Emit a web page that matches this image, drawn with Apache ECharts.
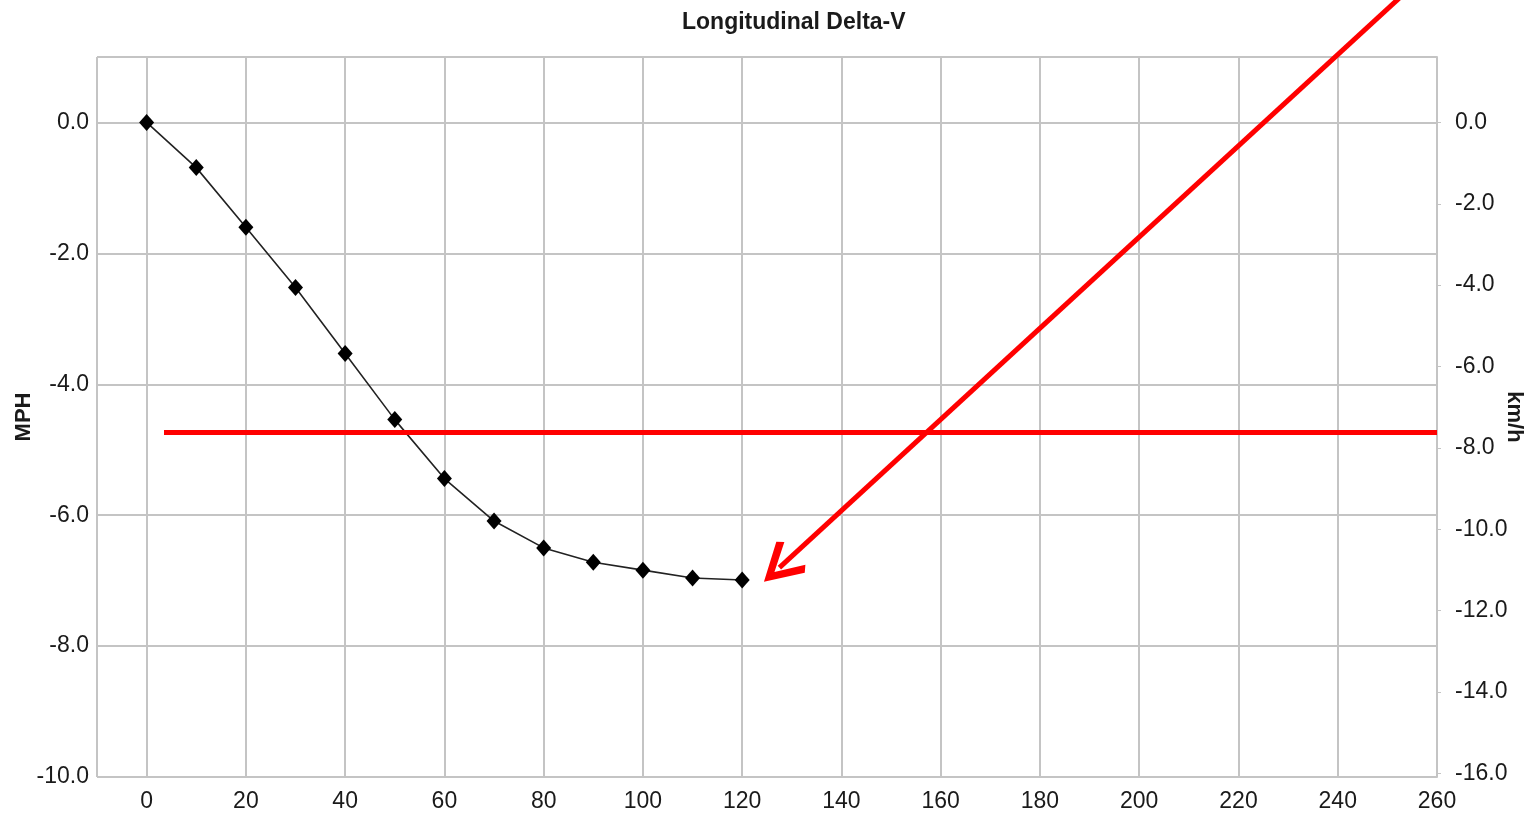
<!DOCTYPE html>
<html>
<head>
<meta charset="utf-8">
<title>Longitudinal Delta-V</title>
<script src="https://cdn.jsdelivr.net/npm/echarts@6/dist/echarts.min.js"></script>
<style>
  html, body { margin: 0; padding: 0; background: #fff; }
  #main { width: 1533px; height: 815px; }
</style>
</head>
<body>
<div id="main"></div>
<script>
// time (ms) and delta-V (mph)
const timeMs = [0, 10, 20, 30, 40, 50, 60, 70, 80, 90, 100, 110, 120];
const deltaVMph = [0, -0.69, -1.6, -2.52, -3.53, -4.54, -5.44, -6.09, -6.5, -6.72, -6.84, -6.96, -6.99];

// axis ranges
const xRange = [-10, 260];
const mphRange = [-10, 1];
const MPH_TO_KMH = 1.609344;

// red hand-drawn annotations (data coordinates)
const redLineX = [3.5, 260];
const redLineY = -4.73;
const arrowFrom = [252.4, 1.9];
const arrowTo = [127.5, -6.8];

const font = 'Arial, "Liberation Sans", sans-serif';
const gridGray = '#c4c4c4';
const textColor = '#1a1a1a';

var chart = echarts.init(document.getElementById('main'));

chart.setOption({
    animation: false,
    title: {
        text: 'Longitudinal Delta-V',
        left: 677,
        top: 6,
        textStyle: { fontFamily: font, fontSize: 23, fontWeight: 'bold', color: textColor }
    },
    grid: { left: 97, right: 93, top: 57, bottom: 38 },
    xAxis: {
        type: 'value',
        min: xRange[0],
        max: xRange[1],
        splitNumber: 13,
        minInterval: 20,
        maxInterval: 20,
        axisLine: { show: true, lineStyle: { color: gridGray, width: 2 } },
        axisTick: { show: true, length: 5, lineStyle: { color: gridGray, width: 2 } },
        splitLine: { show: true, lineStyle: { color: gridGray, width: 2 } },
        axisLabel: {
            showMinLabel: false,
            margin: 13,
            fontFamily: font, fontSize: 23, color: textColor
        }
    },
    yAxis: [
        {
            type: 'value',
            position: 'left',
            min: mphRange[0],
            max: mphRange[1],
            interval: 2,
            name: 'MPH',
            nameLocation: 'middle',
            nameGap: 62,
            nameMoveOverlap: false,
            nameTextStyle: { fontFamily: font, fontSize: 22, fontWeight: 'bold', color: textColor },
            axisLine: { show: true, lineStyle: { color: gridGray, width: 2 } },
            axisTick: { show: true, length: 5, lineStyle: { color: gridGray, width: 2 } },
            splitLine: { show: true, lineStyle: { color: gridGray, width: 2 } },
            axisLabel: {
                showMaxLabel: false,
                margin: 8,
                padding: [4, 0, 0, 0],
                formatter: function (v) { return v.toFixed(1); },
                fontFamily: font, fontSize: 23, color: textColor
            }
        },
        {
            type: 'value',
            position: 'right',
            min: mphRange[0] * MPH_TO_KMH,
            max: mphRange[1] * MPH_TO_KMH,
            splitNumber: 9,
            minInterval: 2,
            maxInterval: 2,
            name: 'km/h',
            nameLocation: 'middle',
            nameRotate: -90,
            nameGap: 66,
            nameMoveOverlap: false,
            nameTextStyle: { fontFamily: font, fontSize: 22, fontWeight: 'bold', color: textColor },
            axisLine: { show: true, lineStyle: { color: gridGray, width: 2 } },
            axisTick: { show: true, length: 4, lineStyle: { color: gridGray, width: 1 } },
            splitLine: { show: false },
            axisLabel: {
                showMinLabel: false,
                showMaxLabel: false,
                margin: 18,
                padding: [4, 0, 0, 0],
                formatter: function (v) { return v.toFixed(1); },
                fontFamily: font, fontSize: 23, color: textColor
            }
        }
    ],
    series: [
        {
            name: 'Delta-V',
            type: 'line',
            yAxisIndex: 0,
            data: timeMs.map(function (t, i) { return [t, deltaVMph[i]]; }),
            symbol: 'diamond',
            symbolSize: [15, 17],
            itemStyle: { color: '#000' },
            lineStyle: { color: '#222', width: 1.6 },
            z: 3,
            markLine: {
                silent: true,
                symbol: ['none', 'none'],
                label: { show: false },
                lineStyle: { color: '#ff0000', width: 5, type: 'solid' },
                data: [[
                    { coord: [redLineX[0], redLineY] },
                    { coord: [redLineX[1], redLineY] }
                ]]
            }
        },
        {
            name: 'arrow',
            type: 'lines',
            coordinateSystem: 'cartesian2d',
            xAxisIndex: 0,
            yAxisIndex: 0,
            clip: false,
            silent: true,
            symbol: ['none', 'path://M50,0 L100,86 L87,100 L50,34 L13,100 L0,86 Z'],
            symbolSize: 42,
            lineStyle: { color: '#ff0000', width: 5, opacity: 1, curveness: 0 },
            itemStyle: { color: '#ff0000' },
            data: [{ coords: [arrowFrom, arrowTo] }],
            z: 5
        }
    ]
});
</script>
</body>
</html>
